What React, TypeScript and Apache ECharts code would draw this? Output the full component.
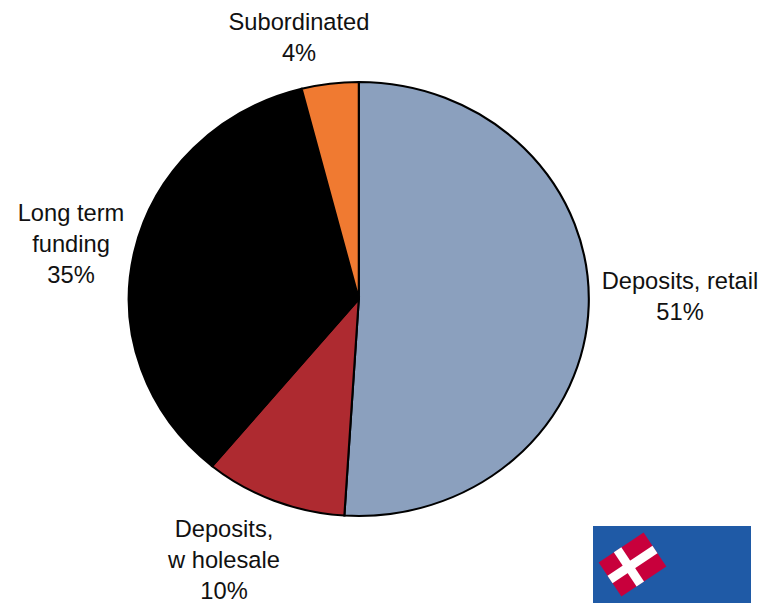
import React, { useEffect, useRef } from "react";
import * as echarts from "echarts";

const categories = ["Deposits, retail", "Deposits,\nw holesale", "Long term\nfunding", "Subordinated"];
const shares = [51, 10, 35, 4];
const sliceColors = ["#8BA0BE", "#AE2A30", "#000000", "#F07A31"];

// Centre of the first label line, in page pixels, in slice order.
const labelAnchors = [
  [680, 281],
  [224, 529],
  [71, 213],
  [299, 22],
];

const CX = 358.8;
const CY = 299;
const RY = 217;
const RX = 230;
const LINE_STEP = 31;
const LABEL_FONT = '23.7px "Liberation Sans", Arial, sans-serif';

const total = shares.reduce((a, b) => a + b, 0);

function renderSlice(params: any, api: any) {
  const i = params.dataIndex;
  const before = shares.slice(0, i).reduce((a, b) => a + b, 0);
  const start = -Math.PI / 2 + (before / total) * Math.PI * 2;
  const end = start + (api.value(0) / total) * Math.PI * 2;
  const [lx, ly] = labelAnchors[i];
  const lines = `${categories[i]}\n${shares[i]}%`.split("\n");
  return {
    type: "group",
    children: [
      {
        type: "sector",
        x: CX,
        y: CY,
        scaleX: RX / RY,
        shape: { cx: 0, cy: 0, r: RY, r0: 0, startAngle: start, endAngle: end, clockwise: true },
        style: { fill: sliceColors[i], stroke: "#000000", lineWidth: 2 },
      },
      ...lines.map((line, n) => ({
        type: "text",
        style: {
          text: line,
          x: lx,
          y: ly + n * LINE_STEP,
          align: "center",
          verticalAlign: "middle",
          font: LABEL_FONT,
          fill: "#111111",
        },
      })),
    ],
  };
}

export default function App() {
  const ref = useRef<HTMLDivElement>(null);
  useEffect(() => {
    const chart = echarts.init(ref.current!, undefined, { renderer: "svg" });
    chart.setOption({
      animation: false,
      backgroundColor: "#ffffff",
      series: [
        {
          type: "custom",
          coordinateSystem: "none",
          data: shares.map((v) => [v]),
          renderItem: renderSlice,
          silent: true,
        },
      ],
      graphic: [
        {
          type: "rect",
          shape: { x: 593, y: 526, width: 158, height: 77 },
          style: { fill: "#1F5AA6" },
        },
        {
          // Danish flag, tilted
          type: "group",
          x: 632.5,
          y: 564.5,
          rotation: (33.7 * Math.PI) / 180,
          children: [
            { type: "rect", shape: { x: -27, y: -20.5, width: 54, height: 41 }, style: { fill: "#C8003C" } },
            { type: "rect", shape: { x: -8.8, y: -20.5, width: 9, height: 41 }, style: { fill: "#FFFFFF" } },
            { type: "rect", shape: { x: -27, y: -4.5, width: 54, height: 9 }, style: { fill: "#FFFFFF" } },
          ],
        },
      ],
    });
    return () => chart.dispose();
  }, []);
  return <div ref={ref} style={{ position: "absolute", left: 0, top: 0, width: 762, height: 603 }} />;
}
